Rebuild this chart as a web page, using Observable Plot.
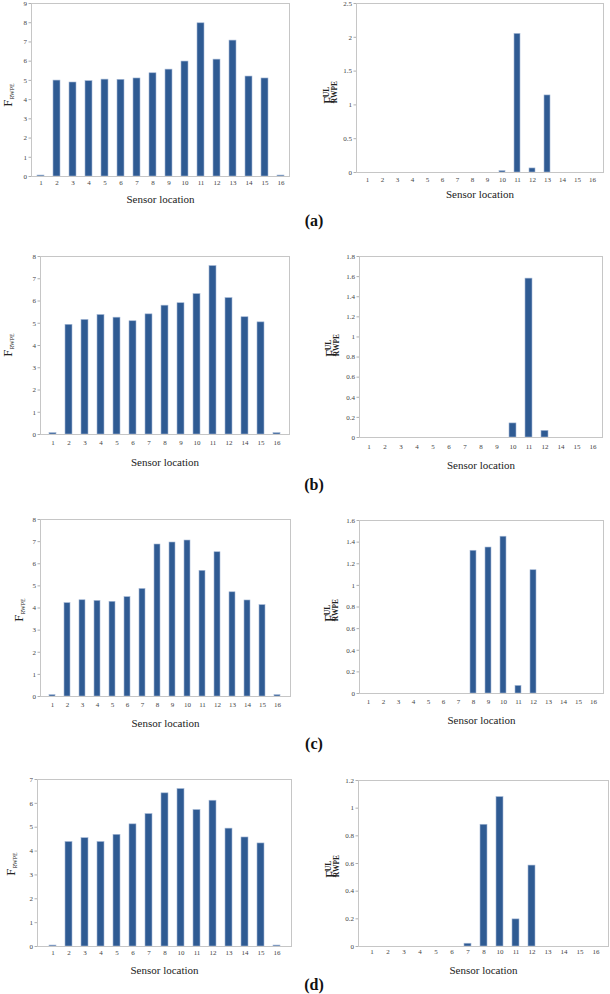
<!DOCTYPE html>
<html>
<head>
<meta charset="utf-8">
<script src="https://cdn.jsdelivr.net/npm/d3@7"></script>
<script src="https://cdn.jsdelivr.net/npm/@observablehq/plot@0.6"></script>
<style>
  html, body { margin: 0; padding: 0; background: #fff; }
  #fig { position: relative; width: 610px; height: 994px; overflow: hidden; }
  #fig svg { position: absolute; overflow: visible; }
  #fig svg, #fig svg text { font-family: "Liberation Serif", "DejaVu Serif", serif !important; }
  .letter { position: absolute; font-family: "Liberation Serif", serif; font-weight: bold; font-size: 16px; color: #111; transform: translate(-50%, -50%); }
</style>
</head>
<body>
<div id="fig"></div>
<script>
// ---- categories (sensor locations) ----
const catsA = [1, 2, 3, 4, 5, 6, 7, 8, 9, 10, 11, 12, 13, 14, 15, 16];
const catsB = [1, 2, 3, 4, 5, 6, 7, 8, 9, 10, 11, 12, 14, 15, 16];
const catsC = [1, 2, 3, 4, 5, 6, 7, 8, 9, 10, 11, 12, 13, 14, 15, 16];
const catsD = [1, 2, 3, 4, 5, 6, 7, 8, 10, 11, 12, 13, 14, 15, 16];

// ---- F_RWPE values (left column) ----
const rwpeA = [0.05, 4.99, 4.89, 4.96, 5.04, 5.03, 5.10, 5.37, 5.56, 5.98, 7.97, 6.08, 7.07, 5.20, 5.10, 0.05];
const rwpeB = [0.06, 4.93, 5.15, 5.37, 5.25, 5.09, 5.40, 5.79, 5.90, 6.31, 7.57, 6.13, 5.27, 5.04, 0.06];
const rwpeC = [0.06, 4.22, 4.35, 4.32, 4.28, 4.49, 4.86, 6.87, 6.96, 7.05, 5.68, 6.52, 4.71, 4.34, 4.13, 0.06];
const rwpeD = [0.04, 4.38, 4.54, 4.38, 4.68, 5.12, 5.55, 6.42, 6.60, 5.72, 6.11, 4.94, 4.57, 4.32, 0.04];

// ---- F^UL_RWPE values (right column) ----
const ulA = [0, 0, 0, 0, 0, 0, 0, 0, 0, 0.02, 2.05, 0.06, 1.14, 0, 0, 0];
const ulB = [0, 0, 0, 0, 0, 0, 0, 0, 0, 0.14, 1.58, 0.066, 0, 0, 0];
const ulC = [0, 0, 0, 0, 0, 0, 0, 1.32, 1.35, 1.45, 0.07, 1.14, 0, 0, 0, 0];
const ulD = [0, 0, 0, 0, 0, 0, 0.02, 0.88, 1.08, 0.196, 0.585, 0, 0, 0, 0];

// ---- y tick labels ----
const ticksRwpeA = [0, 1, 2, 3, 4, 5, 6, 7, 8, 9];
const ticksRwpeB = [0, 1, 2, 3, 4, 5, 6, 7, 8];
const ticksRwpeC = [0, 1, 2, 3, 4, 5, 6, 7, 8];
const ticksRwpeD = [0, 1, 2, 3, 4, 5, 6, 7];
const ticksUlA = [0, 0.5, 1, 1.5, 2, 2.5];
const ticksUlB = [0, 0.2, 0.4, 0.6, 0.8, 1, 1.2, 1.4, 1.6, 1.8];
const ticksUlC = [0, 0.2, 0.4, 0.6, 0.8, 1, 1.2, 1.4, 1.6];
const ticksUlD = [0, 0.2, 0.4, 0.6, 0.8, 1, 1.2];

const xLabel = "Sensor location";
const letters = ["(a)", "(b)", "(c)", "(d)"];

// ---- layout (frame boxes in page pixels) ----
const SERIF = "'Liberation Serif', 'DejaVu Serif', serif";
const panels = [
  {cats: catsA, vals: rwpeA, ticks: ticksRwpeA, kind: "L", L: 31,  R: 289, T: 3,   B: 176, tY: 183, lY: 199, yl: {x: 12,  y: 95}},
  {cats: catsA, vals: ulA,   ticks: ticksUlA,   kind: "R", L: 356, R: 603, T: 3,   B: 172, tY: 180, lY: 194, yl: {x: 334, y: 84}},
  {cats: catsB, vals: rwpeB, ticks: ticksRwpeB, kind: "L", L: 40,  R: 289, T: 256, B: 434, tY: 443, lY: 462, yl: {x: 12,  y: 345}},
  {cats: catsB, vals: ulB,   ticks: ticksUlB,   kind: "R", L: 359, R: 602, T: 256, B: 437, tY: 447, lY: 465, yl: {x: 336, y: 337}},
  {cats: catsC, vals: rwpeC, ticks: ticksRwpeC, kind: "L", L: 40,  R: 290, T: 519, B: 696, tY: 705, lY: 723, yl: {x: 23,  y: 610}},
  {cats: catsC, vals: ulC,   ticks: ticksUlC,   kind: "R", L: 359, R: 603, T: 520, B: 693, tY: 702, lY: 720, yl: {x: 335, y: 602}},
  {cats: catsD, vals: rwpeD, ticks: ticksRwpeD, kind: "L", L: 37,  R: 291, T: 779, B: 946, tY: 953, lY: 970, yl: {x: 15,  y: 864}},
  {cats: catsD, vals: ulD,   ticks: ticksUlD,   kind: "R", L: 358, R: 608, T: 780, B: 946, tY: 952, lY: 970, yl: {x: 336, y: 858}}
];
const letterPos = [{x: 314, y: 221}, {x: 314, y: 485}, {x: 314, y: 744}, {x: 314, y: 985}];

const fig = document.getElementById("fig");

panels.forEach(p => {
  const data = p.cats.map((c, i) => ({c, v: p.vals[i]}));
  const svgLeft = p.kind === "L" ? 0 : 305;
  const svgW = p.kind === "L" ? 300 : 305;
  const mTop = 12, mBottom = 40;
  const svgTop = p.T - mTop;
  const chart = Plot.plot({
    width: svgW,
    height: (p.B - p.T) + mTop + mBottom,
    marginLeft: p.L - svgLeft,
    marginRight: svgLeft + svgW - p.R,
    marginTop: mTop,
    marginBottom: mBottom,
    style: {fontFamily: SERIF, fontSize: "7px", color: "#444", background: "transparent", overflow: "visible"},
    x: {type: "band", domain: p.cats, paddingInner: 0.58, paddingOuter: 0.29, label: null},
    y: {domain: [0, p.ticks[p.ticks.length - 1]], label: null},
    marks: [
      Plot.barY(data, {x: "c", y: "v", fill: "#2f5b93", stroke: "#a3b7d5", strokeWidth: 0.6, filter: d => d.v > 0}),
      Plot.frame({stroke: "#c6c6c6"}),
      Plot.axisX({tickSize: 0, tickPadding: (p.tY - p.B) - 3.5, fill: "#444", label: null}),
      Plot.axisY({ticks: p.ticks, tickSize: 2.5, tickPadding: 2, stroke: "#b0b0b0", fill: "#444", tickFormat: d => String(d), label: null}),
      Plot.text([xLabel], {frameAnchor: "bottom", dy: p.lY - p.B, lineAnchor: "middle", fontSize: 11, fill: "#222"})
    ]
  });
  chart.style.left = svgLeft + "px";
  chart.style.top = svgTop + "px";
  fig.appendChild(chart);

  // y-axis label with sub/superscripts, as real text
  const svg = d3.select(chart);
  const lx = p.yl.x - svgLeft, ly = p.yl.y - svgTop;
  const g = svg.append("g").attr("transform", `translate(${lx},${ly}) rotate(-90)`)
    .attr("font-family", SERIF).attr("fill", "#222");
  if (p.kind === "L") {
    const t = g.append("text").attr("text-anchor", "middle");
    t.append("tspan").attr("font-size", 13).text("F");
    t.append("tspan").attr("font-size", 6).attr("dy", 2).text("RWPE");
  } else {
    const x0 = -16, fw = 8;
    g.append("text").attr("x", x0).attr("font-size", 14).text("F");
    g.append("text").attr("x", x0 + fw).attr("y", -5).attr("font-size", 7.5).attr("font-weight", "bold").text("UL");
    g.append("text").attr("x", x0 + fw).attr("y", 3).attr("font-size", 7.5).attr("font-weight", "bold").text("RWPE");
  }
});

letters.forEach((s, i) => {
  const d = document.createElement("div");
  d.className = "letter";
  d.textContent = s;
  d.style.left = letterPos[i].x + "px";
  d.style.top = letterPos[i].y + "px";
  fig.appendChild(d);
});
</script>
</body>
</html>
